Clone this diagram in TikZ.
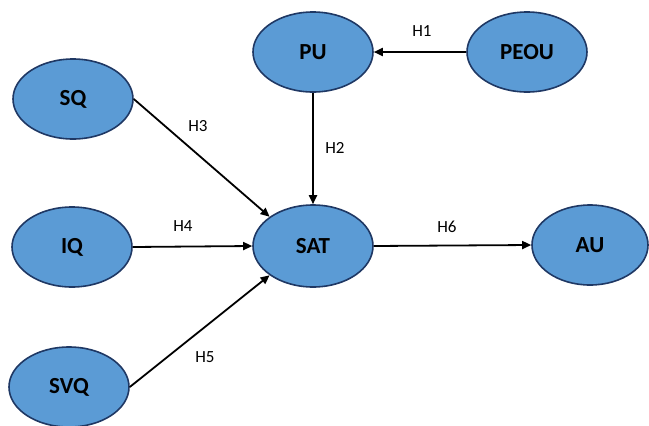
\documentclass[tikz,border=0pt]{standalone}
\usepackage{fontspec}
\setmainfont{Carlito}
\usetikzlibrary{shapes.geometric,arrows.meta}
\definecolor{nodefill}{HTML}{5B9BD5}
\definecolor{nodeline}{HTML}{1F3864}
\tikzset{
  construct/.style={ellipse, draw=nodeline, fill=nodefill, line width=1.6pt,
    minimum width=120pt, minimum height=80pt, inner sep=0pt,
    font=\fontsize{23}{26}\selectfont\bfseries},
  link/.style={draw=black, line width=1.8pt, -{Triangle[length=9pt,width=8pt]}},
  hyp/.style={font=\fontsize{17}{20}\selectfont}
}
\begin{document}
\begin{tikzpicture}[x=1pt,y=-1pt]
\useasboundingbox (0,0) rectangle (649,426);
\clip (0,0) rectangle (649,426);
\node[construct] (PU) at (313,52) {PU};
\node[construct] (PEOU) at (527,52) {PEOU};
\node[construct] (SQ) at (73,99) {SQ};
\node[construct] (IQ) at (72,247) {IQ};
\node[construct] (SVQ) at (69,387) {SVQ};
\node[construct, minimum height=82pt] (SAT) at (313,246) {SAT};
\node[construct, minimum width=116pt] (AU) at (590,245) {AU};

\draw[link] (PEOU.west) -- (PU.east);
\draw[link] (PU.south) -- (SAT.north);
\draw[link] (SQ.east) -- (SAT.146);
\draw[link] (IQ.east) -- (SAT.west);
\draw[link] (SVQ.east) -- (SAT.214);
\draw[link] (SAT.east) -- (AU.west);

\node[hyp] (h1) at (422,31) {H1};
\node[hyp] (h2) at (335,148) {H2};
\node[hyp] (h3) at (198,126) {H3};
\node[hyp] (h4) at (183,226) {H4};
\node[hyp] (h5) at (205,357) {H5};
\node[hyp] (h6) at (447,227) {H6};
\end{tikzpicture}
\end{document}
